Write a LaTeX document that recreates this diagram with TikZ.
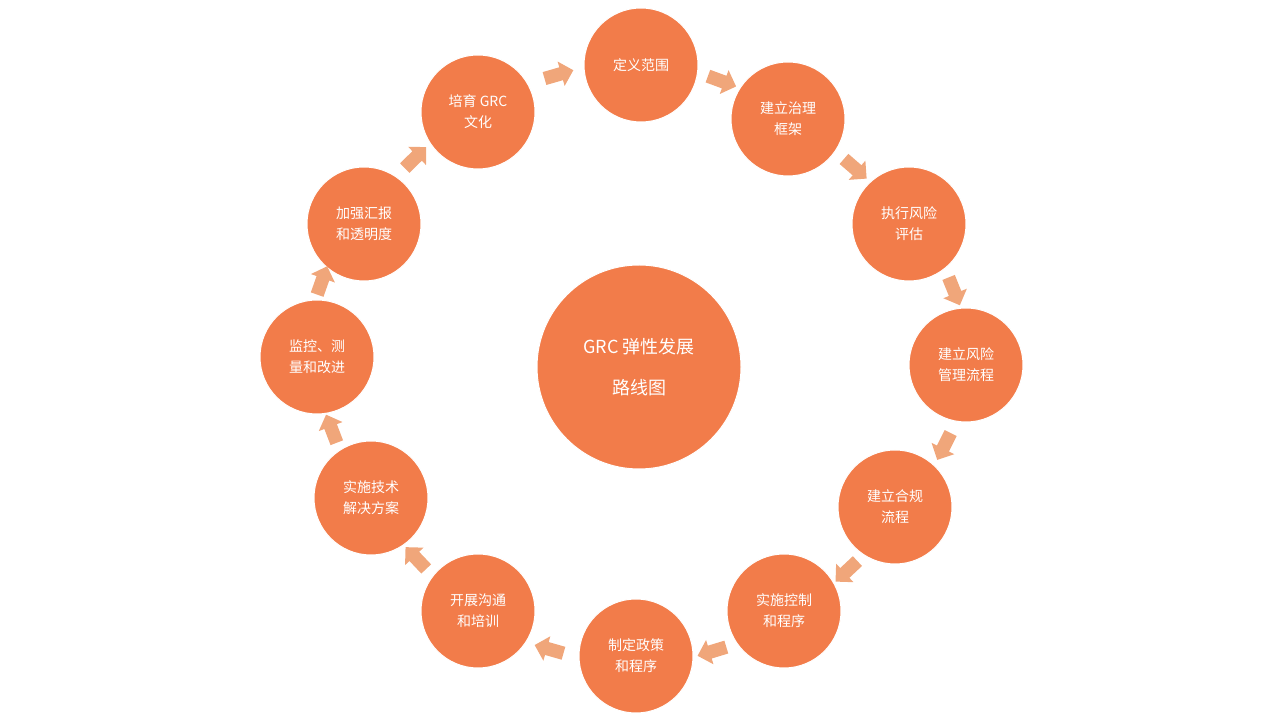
\documentclass[tikz,border=0pt]{standalone}
\usepackage{fontspec}
\setmainfont{Noto Sans CJK SC}
\usepackage{tikz}
\usetikzlibrary{shapes.arrows}
\definecolor{grcorange}{RGB}{242,124,74}
\definecolor{grcpeach}{RGB}{240,166,122}

\begin{document}
\begin{tikzpicture}[x=1pt,y=1pt]

\tikzset{stage/.style = {shape=circle,fill=grcorange,draw=white,line width=1pt,minimum size=114pt,inner sep=0pt,text=white,align=center,font=\fontsize{14}{21}\selectfont}}
\tikzset{hub/.style = {stage,minimum size=204pt,font=\fontsize{18}{41}\selectfont}}
\tikzset{flow/.style = {shape=single arrow,fill=grcpeach,draw=none,minimum height=30pt,inner xsep=0pt,inner ysep=6.5pt,single arrow head extend=6pt,midway,sloped,allow upside down}}
\useasboundingbox (0,0) rectangle (1280,720);
% centre
\node[hub] (hub) at (639,353) {GRC 弹性发展\\路线图};
% stages
\node[stage] (s1) at (641,655) {定义范围};
\node[stage] (s2) at (788,601) {建立治理\\框架};
\node[stage] (s3) at (909,496) {执行风险\\评估};
\node[stage] (s4) at (966,355) {建立风险\\管理流程};
\node[stage] (s5) at (895,213) {建立合规\\流程};
\node[stage] (s6) at (784,109) {实施控制\\和程序};
\node[stage] (s7) at (636,64) {制定政策\\和程序};
\node[stage] (s8) at (478,109) {开展沟通\\和培训};
\node[stage] (s9) at (371,222) {实施技术\\解决方案};
\node[stage] (s10) at (317,363) {监控、测\\量和改进};
\node[stage] (s11) at (364,496) {加强汇报\\和透明度};
\node[stage] (s12) at (478,608) {培育 GRC\\文化};
% arrows
\path (s1.center) to[bend left=16] node[flow] {} (s2.center);
\path (s2.center) to[bend left=8] node[flow] {} (s3.center);
\path (s3.center) to[bend left=22] node[flow] {} (s4.center);
\path (s4.center) to[bend left=21] node[flow] {} (s5.center);
\path (s5.center) to[bend left=18] node[flow] {} (s6.center);
\path (s6.center) to[bend left=23] node[flow] {} (s7.center);
\path (s7.center) to[bend left=21] node[flow] {} (s8.center);
\path (s8.center) to[bend left=11] node[flow] {} (s9.center);
\path (s9.center) to[bend left=16] node[flow] {} (s10.center);
\path (s10.center) to[bend left=30] node[flow] {} (s11.center);
\path (s11.center) to[bend left=14] node[flow] {} (s12.center);
\path (s12.center) to[bend left=16] node[flow] {} (s1.center);
\end{tikzpicture}
\end{document}
